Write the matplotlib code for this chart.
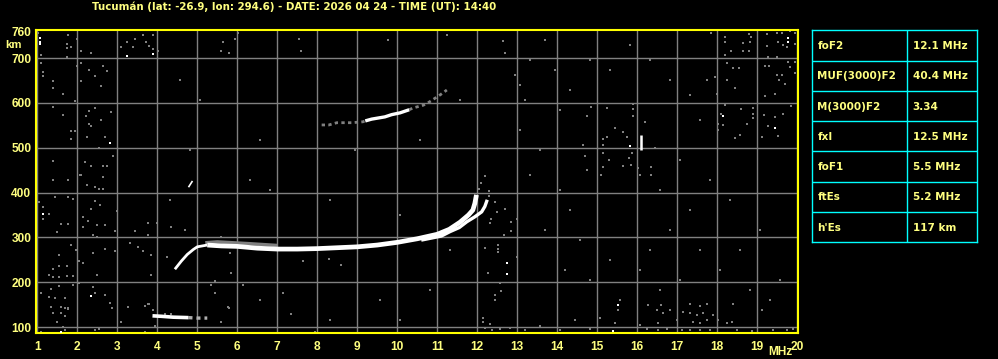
import matplotlib.pyplot as plt

plt.rcParams['font.family'] = ['Liberation Sans', 'DejaVu Sans']
plt.rcParams['font.weight'] = 'bold'

############ header / parameter table ############
TITLE = "Tucumán (lat: -26.9, lon: 294.6) - DATE: 2026 04 24 - TIME (UT): 14:40"
PARAM_NAMES = ["foF2", "MUF(3000)F2", "M(3000)F2", "fxI", "foF1", "ftEs", "h'Es"]
PARAM_VALUES = ["12.1 MHz", "40.4 MHz", "3.34", "12.5 MHz", "5.5 MHz", "5.2 MHz", "117 km"]

FREQ_TICKS = list(range(1, 21))
HEIGHT_GRID = [100, 200, 300, 400, 500, 600, 700]
HEIGHT_TICKS = HEIGHT_GRID + [760]

############ echo traces (MHz, km) ############
# sporadic E
ES_F = [3.88, 4.1, 4.4, 4.78]
ES_H = [125, 124, 122, 121]
ES_TAIL_F = [4.78, 5.0, 5.25]
ES_TAIL_H = [121, 120, 120]

# F layer, ordinary ray
F_RISE_F = [4.44, 4.6, 4.75, 4.9, 5.0, 5.25]
F_RISE_H = [229, 247, 262, 273, 279, 283]
F_O_F = [5.25, 5.6, 6.0, 6.5, 7.0, 7.5, 8.0, 8.5, 9.0, 9.5, 10.0, 10.5,
         11.0, 11.3, 11.57, 11.78, 11.89, 11.94, 11.98]
F_O_H = [283, 281, 280, 276, 274, 274, 275, 277, 279, 283, 289, 297,
         307, 318, 334, 350, 361, 376, 395]
F_HALO_F = [5.2, 5.5, 5.9, 6.3, 7.0]
F_HALO_H = [288, 290, 288, 286, 282]

# F layer, extraordinary ray
F_X_F = [10.6, 11.1, 11.32, 11.55, 11.74, 11.94, 12.11, 12.19, 12.25]
F_X_H = [294, 303, 313, 322, 335, 346, 357, 369, 384]

# second hop
HOP2_F = [9.2, 9.36, 9.69, 9.86, 10.07, 10.3]
HOP2_H = [560, 564, 569, 574, 578, 585]
HOP2_GRAY_F = [8.11, 8.29, 8.49, 8.86, 9.14, 9.2]
HOP2_GRAY_H = [551, 551, 556, 556, 558, 560]
HOP2_TAIL_F = [10.3, 10.4, 10.65, 10.78, 11.07, 11.24]
HOP2_TAIL_H = [585, 589, 595, 601, 618, 629]

SPIKE_F = [16.09, 16.09]
SPIKE_H = [495, 528]
KINK_F = [4.78, 4.88]
KINK_H = [412, 426]

############ speckle ############
WHITE_F = [1.08, 1.08, 1.08, 1.14, 2.82, 1.59, 2.34, 3.89, 3.24, 19.78, 19.78,
           18.14, 19.44, 15.53, 15.40, 12.74, 12.74, 15.83]
WHITE_H = [744, 737, 731, 352, 510, 90, 169, 709, 705, 744, 736,
           571, 544, 149, 92, 242, 218, 504]

NOISE_F = [
    1.03, 1.78, 1.99, 1.74, 1.74, 1.84, 2.09, 2.34, 1.09, 1.74, 1.09, 2.09, 1.99, 2.64,
    1.14, 1.14, 2.29, 2.74, 2.44, 1.39, 2.09, 1.39, 2.59, 1.64, 1.94, 1.39, 2.29, 2.44,
    1.64, 2.84, 2.22, 2.59, 2.29, 2.34, 1.84, 1.94, 2.24, 2.69, 1.84, 2.55, 1.39, 2.89,
    2.19, 2.34, 2.09, 2.64, 2.75,
    1.39, 1.78, 2.07, 2.24, 2.64, 2.44, 2.55, 2.65, 1.44, 1.78, 1.89, 1.04, 2.44, 2.57,
    1.14, 2.34, 2.99, 1.29, 1.14, 2.14, 1.59, 1.78, 2.28, 2.49, 2.69, 2.14, 1.49, 2.40,
    2.50, 2.94, 1.00, 1.84, 1.97, 2.94, 2.69, 2.39, 1.54, 2.04, 2.14, 1.39, 1.54, 1.74,
    1.29, 1.40, 1.54, 1.74, 1.89, 2.49, 2.04, 1.89, 2.39, 1.09, 1.34, 1.54, 1.29, 1.44,
    1.69, 2.44, 2.69, 2.82, 2.86, 1.34, 1.59, 1.69, 1.78, 1.39, 1.59, 1.69, 1.49, 1.64,
    1.69, 1.09, 2.44, 2.55,
    1.78, 3.69, 3.28, 3.69, 3.79, 3.90, 3.09, 3.94, 4.19, 4.34, 5.78, 5.59, 7.34, 7.94,
    3.24, 3.44, 3.65, 3.89, 3.72, 3.79, 3.09, 3.40, 3.89, 4.03, 6.03, 5.94, 5.64, 5.59,
    5.79, 7.54, 7.59, 12.64, 12.69,
    3.78, 3.99, 4.34, 3.44, 3.78, 3.32, 3.53, 3.64, 3.84, 4.24, 5.59, 5.82, 7.64, 8.29,
    8.59, 3.84, 5.84, 5.44, 5.34, 6.14, 5.44, 7.14, 3.78, 3.89, 5.79, 12.32, 12.67, 12.19,
    12.53, 12.53, 12.53, 12.28, 12.57, 12.59, 12.44, 12.44, 12.14, 12.14, 12.32,
    12.19, 12.09, 12.04, 12.30, 12.30, 12.44, 12.49, 12.69, 12.34, 12.84, 12.99, 12.84,
    12.99,
    14.84, 15.24, 15.89, 15.89, 14.74, 15.89, 16.19, 15.44, 15.64, 15.74, 15.14, 15.24,
    15.14, 14.64, 16.44, 15.86, 15.14, 14.69, 15.80, 15.30, 15.64, 15.84, 16.03, 16.34,
    15.14, 14.74, 16.34, 15.09, 16.07,
    17.84, 18.19, 18.80, 18.84, 19.25, 19.50, 19.61, 19.82, 19.94, 18.19, 18.64, 18.82,
    19.53, 19.64, 19.75, 19.94, 19.24, 18.34, 18.64, 18.80, 18.20, 19.28, 19.50, 19.78,
    19.94, 18.24, 18.39, 18.55, 19.19, 19.30, 19.82, 19.50, 19.61, 19.94, 17.74, 17.94,
    18.24, 19.55, 19.69, 18.44, 17.99, 19.44, 19.19, 19.84, 18.19, 18.59, 18.89, 18.09,
    18.89, 18.89, 19.17, 19.44, 19.64, 18.03, 18.14, 18.74, 19.28, 18.03, 18.57, 19.11,
    19.53, 18.44,
    16.28, 16.59, 17.32, 17.57, 17.74, 18.40, 15.53, 16.49, 16.65, 16.82, 17.15, 17.32,
    17.49, 17.65, 17.90, 18.03, 18.24, 18.36, 19.11, 15.44, 16.07, 16.53, 16.99, 17.40,
    17.57, 17.74, 16.24, 16.53, 16.74, 17.11, 17.32, 17.57, 17.82, 18.49, 18.86, 19.39,
    19.74, 19.90,
    12.19, 12.37, 12.57, 12.82, 13.19, 13.57, 14.07, 14.44, 14.82, 15.07,
    12.94, 13.07, 13.19, 13.32, 13.69, 13.94, 14.07, 13.07, 13.57, 13.32, 14.07, 14.32,
    13.69, 14.57, 14.19, 14.82, 15.32, 15.57, 16.07, 16.32, 16.57, 17.07, 17.57, 18.07,
    18.57, 19.07, 19.57, 19.32, 18.82, 18.32, 17.82, 17.32, 16.82, 16.57, 17.07, 17.57,
    17.32, 16.82, 16.32, 15.82, 15.32, 14.82, 14.32,
    9.77, 11.24, 11.57, 10.57, 8.94, 6.57, 6.82, 8.32, 10.07, 11.32, 9.57, 10.82, 8.32,
    10.07, 6.57, 6.32, 4.82, 5.07, 4.57, 4.32, 4.69,
]
NOISE_H = [
    757, 752, 742, 732, 722, 726, 717, 711, 707, 702, 690, 689, 683, 683,
    670, 660, 674, 672, 660, 648, 648, 634, 639, 620, 605, 590, 583, 588,
    573, 581, 571, 562, 553, 549, 538, 538, 525, 523, 519, 500, 471, 482,
    469, 459, 439, 459, 459,
    428, 428, 440, 417, 434, 412, 407, 407, 390, 390, 385, 378, 382, 372,
    367, 363, 360, 352, 341, 346, 329, 329, 337, 328, 328, 324, 311, 305,
    302, 314, 283, 283, 272, 270, 274, 266, 261, 248, 244, 230, 236, 236,
    216, 212, 212, 214, 214, 216, 199, 194, 190, 177, 186, 192, 168, 164,
    164, 177, 172, 154, 142, 145, 145, 142, 142, 131, 132, 125, 112, 101,
    93, 90, 93, 95,
    140, 90, 145, 147, 151, 138, 112, 102, 129, 129, 144, 112, 129, 90,
    735, 743, 752, 752, 735, 727, 726, 726, 720, 717, 757, 743, 735, 717,
    712, 743, 717, 738, 712,
    333, 333, 324, 315, 306, 288, 278, 270, 261, 257, 302, 266, 248, 252,
    238, 216, 221, 203, 194, 194, 177, 177, 151, 138, 142, 333, 305, 276,
    283, 275, 268, 221, 199, 181, 172, 160, 120, 112, 107,
    437, 422, 407, 404, 393, 380, 357, 363, 340, 335, 340, 315,
    256,
    590, 588, 598, 586, 571, 570, 558, 545, 535, 523, 520, 523,
    506, 506, 500, 489, 488, 482, 477, 473, 460, 462, 456, 458,
    458, 451, 439, 439, 439,
    757, 748, 754, 748, 754, 757, 757, 761, 756, 735, 733, 735,
    737, 730, 726, 732, 727, 715, 717, 717, 707, 702, 702, 692,
    692, 689, 678, 679, 683, 683, 681, 663, 663, 666, 651, 657,
    651, 651, 642, 633, 620, 620, 616, 593, 596, 586, 588, 575,
    576, 566, 573, 568, 576, 553, 551, 553, 549, 540, 529, 524,
    526, 521,
    149, 149, 151, 147, 151, 151, 138, 138, 131, 138, 134, 131,
    127, 131, 127, 116, 110, 112, 138, 108, 105, 108, 116, 112,
    108, 116, 95, 93, 95, 93, 93, 93, 93, 93, 92, 93,
    93, 95,
    98, 93, 95, 98, 93, 102, 93, 116, 95, 120,
    663, 640, 607, 696, 741, 674, 584, 540, 495, 439, 406, 361,
    317, 294, 227, 205, 250, 160, 227, 272, 183, 205, 272, 227,
    272, 317, 205, 160, 183, 384, 428, 361, 317, 406, 473, 562,
    618, 651, 696, 730, 674, 696, 629,
    741, 752, 607, 517, 495, 517, 406, 384, 350, 272, 160, 183, 116,
    116, 160, 428, 495, 607, 651, 384, 317,
]

TXT = '#ffff80'
GRID = '#808080'
FRAME = '#ffff00'
CYAN = '#00ffff'
WIDE = ['DejaVu Sans']

fig = plt.figure(figsize=(9.98, 3.59), dpi=100, facecolor='black')
ax = fig.add_axes([35.5 / 998, 26 / 359, 762.5 / 998, 303.5 / 359], facecolor='black')

for f in FREQ_TICKS:
    ax.axvline(f, color=GRID, lw=1.0, zorder=1)
for h in HEIGHT_GRID:
    ax.axhline(h, color=GRID, lw=1.0, zorder=1)

# speckle as crisp 2-3 px pixels
ax.scatter(NOISE_F, NOISE_H, s=3.2, marker='s', color=GRID, linewidths=0,
           antialiased=False, zorder=2)
ax.scatter(WHITE_F, WHITE_H, s=3.2, marker='s', color='white', linewidths=0,
           antialiased=False, zorder=3)

# traces
dots = (0, (1.2, 1.2))
ax.plot(F_HALO_F, F_HALO_H, color=GRID, lw=2.5, zorder=3, solid_capstyle='butt')
ax.plot(ES_TAIL_F, ES_TAIL_H, color='#b0b0b0', lw=2.4, zorder=4, linestyle=dots)
ax.plot(ES_F, ES_H, color='white', lw=2.6, zorder=4, solid_capstyle='butt')
ax.plot(F_RISE_F, F_RISE_H, color='white', lw=2.0, zorder=4, solid_capstyle='butt')
ax.plot(F_O_F, F_O_H, color='white', lw=3.4, zorder=4, solid_capstyle='butt')
ax.plot(F_X_F, F_X_H, color='white', lw=2.4, zorder=4, solid_capstyle='butt')
ax.plot(HOP2_GRAY_F, HOP2_GRAY_H, color=GRID, lw=2.0, zorder=4, linestyle=dots)
ax.plot(HOP2_F, HOP2_H, color='white', lw=2.4, zorder=4, solid_capstyle='butt')
ax.plot(HOP2_TAIL_F, HOP2_TAIL_H, color=GRID, lw=2.0, zorder=4, linestyle=dots)
ax.plot(SPIKE_F, SPIKE_H, color='white', lw=1.8, zorder=4, solid_capstyle='butt')
ax.plot(KINK_F, KINK_H, color='white', lw=1.2, zorder=4, solid_capstyle='butt')

ax.set_xlim(0.955, 20.02)
ax.set_ylim(86.7, 764)
ax.set_xticks(FREQ_TICKS)
ax.set_yticks(HEIGHT_TICKS)
ax.tick_params(length=0, colors=TXT, labelsize=8.6)
ax.tick_params(axis='x', pad=6)
ax.tick_params(axis='y', pad=3)
for sp in ax.spines.values():
    sp.set_color(FRAME)
    sp.set_linewidth(1.5)

fig.text(294 / 998, 1 - 7 / 359, TITLE, color=TXT, fontsize=7.35, family=WIDE,
         ha='center', va='center')
fig.text(5 / 998, 1 - 45 / 359, 'km', color=TXT, fontsize=8.2, ha='left', va='center')
fig.text(780 / 998, 1 - 352 / 359, 'MHz', color=TXT, fontsize=8.6, ha='center', va='center')

############ parameter table ############
tax = fig.add_axes([812.3 / 998, 1 - 242.3 / 359, 165 / 998, 212 / 359], facecolor='black')
nrows = len(PARAM_NAMES)
tax.set_xlim(0, 1)
tax.set_ylim(nrows, 0)
tax.set_xticks([])
tax.set_yticks([])
for sp in tax.spines.values():
    sp.set_color(CYAN)
    sp.set_linewidth(1.0)
for i in range(1, nrows):
    tax.axhline(i, color=CYAN, lw=1.0)
tax.axvline(0.576, color=CYAN, lw=1.0)
for i, (name, val) in enumerate(zip(PARAM_NAMES, PARAM_VALUES)):
    tax.text(0.03, i + 0.52, name, color=TXT, fontsize=7.5, family=WIDE,
             ha='left', va='center')
    tax.text(0.608, i + 0.52, val, color=TXT, fontsize=7.5, family=WIDE,
             ha='left', va='center')

fig.savefig('out.png', dpi=100, facecolor='black')
